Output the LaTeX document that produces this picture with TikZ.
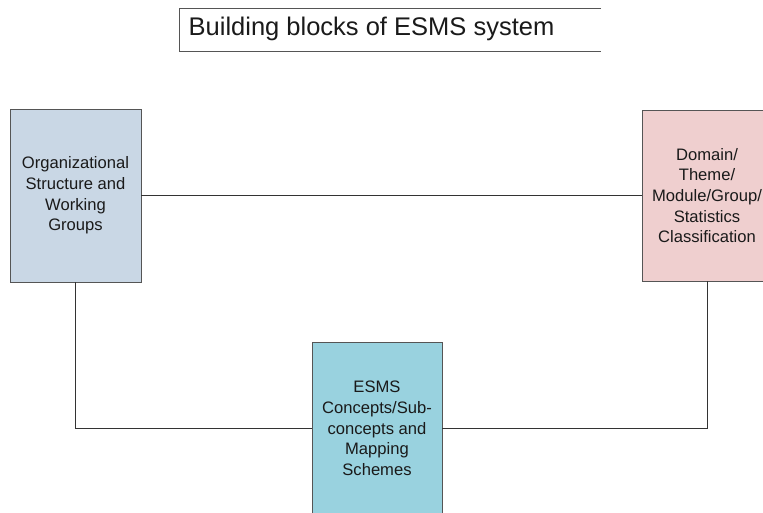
\documentclass[tikz,border=0pt]{standalone}
\usepackage{fontspec}
\setmainfont{Liberation Sans}
\definecolor{orgfill}{HTML}{C9D7E5}
\definecolor{domfill}{HTML}{EFCFCF}
\definecolor{esmsfill}{HTML}{99D2DF}
\definecolor{edge}{HTML}{555555}
\definecolor{wire}{HTML}{333333}
\definecolor{ink}{HTML}{1A1A1A}
\tikzset{
  block/.style={draw=edge, line width=0.9pt, align=center, text=ink,
    inner sep=0pt, font=\fontsize{16.6}{20.7}\selectfont},
  link/.style={draw=wire, line width=0.9pt},
}
\begin{document}
\begin{tikzpicture}[x=1pt, y=-1pt]
\useasboundingbox (0,0) rectangle (763,513);
\clip (0,0) rectangle (763,513);
\fill[white] (0,0) rectangle (763,513);

% heading, framed on three sides
\node[text=ink, font=\fontsize{25.5}{30}\selectfont, anchor=center] (title) at (371.5,29) {Building blocks of ESMS system};
\coordinate (tne) at (601,8);
\coordinate (tnw) at (179.5,8);
\coordinate (tsw) at (179.5,51);
\coordinate (tse) at (601,51);
\draw[edge, line width=0.9pt] (tne) -- (tnw) -- (tsw) -- (tse);

% the three building blocks
\node[block, fill=orgfill, minimum width=131pt, minimum height=173pt] (org) at (75.5,195.5)
  {Organizational\\Structure and\\Working\\Groups};
\node[block, fill=domfill, minimum width=130pt, minimum height=171pt] (dom) at (707,195.5)
  {Domain/\\Theme/\\Module/Group/\\Statistics\\Classification};
\node[block, fill=esmsfill, minimum width=130pt, minimum height=172pt] (esms) at (377,428.5)
  {ESMS\\Concepts/Sub-\\concepts and\\Mapping\\Schemes};

% connectors between the blocks
\draw[link] (org.east) -- (dom.west);
\draw[link] (org.south) |- (esms.west);
\draw[link] (dom.south) |- (esms.east);
\end{tikzpicture}
\end{document}
